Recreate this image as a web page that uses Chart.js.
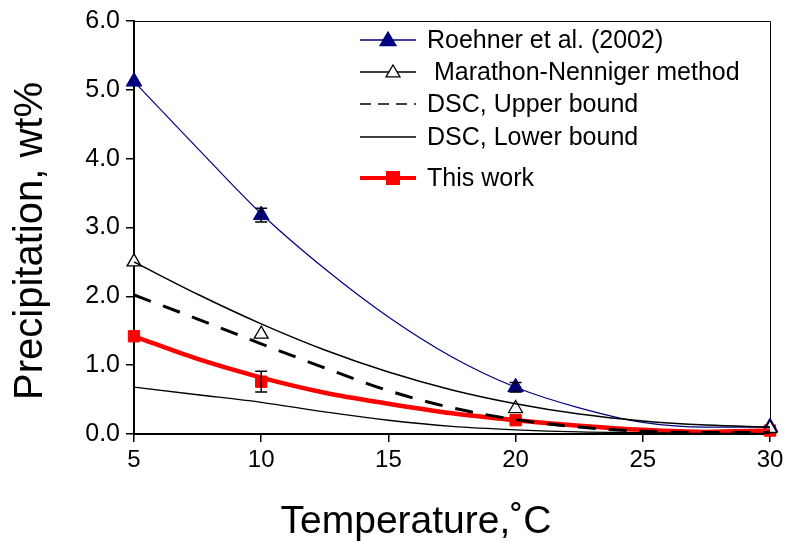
<!DOCTYPE html>
<html>
<head>
<meta charset="utf-8">
<script src="https://cdn.jsdelivr.net/npm/chart.js@4"></script>
<style>
  html, body { margin: 0; padding: 0; background: #fff; }
  #wrap { width: 788px; height: 541px; }
</style>
</head>
<body>
<div id="wrap"><canvas id="myChart" width="788" height="541"></canvas></div>
<script>
// measured points (markers)
const temps = [5, 10, 20, 30];
const roehner = [5.12, 3.18, 0.68, 0.10];
const roehnerErr = [0, 0.10, 0.07, 0];
const marathon = [2.50, 1.45, 0.37, 0.08];
const thisWork = [1.42, 0.76, 0.20, 0.05];
const thisWorkErr = [0, 0.15, 0, 0];

// smooth curves
const curveT = [5, 7.5, 10, 12.5, 15, 17.5, 20, 22.5, 25, 27.5, 30];
const roehnerCurve = [5.12, 4.15, 3.20, 2.40, 1.70, 1.12, 0.68, 0.38, 0.17, 0.10, 0.10];
const marathonCurve = [2.50, 2.03, 1.60, 1.22, 0.90, 0.64, 0.44, 0.29, 0.19, 0.13, 0.10];
const upperCurve = [2.02, 1.67, 1.31, 0.96, 0.63, 0.38, 0.21, 0.10, 0.04, 0.02, 0.02];
const lowerCurve = [0.68, 0.57, 0.46, 0.32, 0.20, 0.11, 0.06, 0.03, 0.02, 0.01, 0.01];
const thisWorkCurve = [1.42, 1.09, 0.82, 0.60, 0.44, 0.30, 0.20, 0.12, 0.06, 0.03, 0.05];

const yTicks = [0, 1, 2, 3, 4, 5, 6];
const xTicks = [5, 10, 15, 20, 25, 30];
const xTitle = 'Temperature,˚C';
const yTitle = 'Precipitation, wt%';

const FONT = '"Liberation Sans", Arial, sans-serif';
const pts = (xs, ys) => xs.map((x, i) => ({ x: x, y: ys[i] }));

const legendItems = [
    { label: 'Roehner et al. (2002)', color: '#00007f', width: 1.5, dash: [], marker: 'triangle', fill: true, size: 8 },
    { label: ' Marathon-Nenniger method', color: '#000', width: 1.5, dash: [], marker: 'triangle', fill: false, size: 7 },
    { label: 'DSC, Upper bound', color: '#000', width: 1.5, dash: [11, 7], marker: null },
    { label: 'DSC, Lower bound', color: '#000', width: 1.5, dash: [], marker: null },
    { label: 'This work', color: '#ff0000', width: 4, dash: [], marker: 'rect', fill: true, size: 7 }
];

const errorBars = {
    id: 'errorBars',
    afterDatasetsDraw(chart) {
        const ctx = chart.ctx;
        const xs = chart.scales.x, ys = chart.scales.y;
        chart.data.datasets.forEach((ds) => {
            if (!ds.errors) return;
            ctx.save();
            ctx.strokeStyle = '#000';
            ctx.lineWidth = 1.5;
            ds.data.forEach((p, i) => {
                const e = ds.errors[i];
                if (!e) return;
                const px = xs.getPixelForValue(p.x);
                const y1 = ys.getPixelForValue(p.y + e);
                const y2 = ys.getPixelForValue(p.y - e);
                ctx.beginPath();
                ctx.moveTo(px, y1); ctx.lineTo(px, y2);
                ctx.moveTo(px - 6, y1); ctx.lineTo(px + 6, y1);
                ctx.moveTo(px - 6, y2); ctx.lineTo(px + 6, y2);
                ctx.stroke();
            });
            ctx.restore();
        });
    }
};

const frame = {
    id: 'frame',
    beforeDatasetsDraw(chart) {
        const a = chart.chartArea, ctx = chart.ctx;
        ctx.save();
        ctx.strokeStyle = '#000';
        ctx.lineWidth = 1;
        ctx.beginPath();
        ctx.moveTo(a.left, a.top + 0.5);
        ctx.lineTo(a.right + 0.5, a.top + 0.5);
        ctx.lineTo(a.right + 0.5, a.bottom);
        ctx.stroke();
        ctx.restore();
    }
};

// axis titles are placed a little off-centre in the original
const axisTitles = {
    id: 'axisTitles',
    afterDraw(chart) {
        const ctx = chart.ctx;
        ctx.save();
        ctx.fillStyle = '#000';
        ctx.textAlign = 'center';
        ctx.textBaseline = 'alphabetic';
        ctx.font = '39px ' + FONT;
        ctx.fillText(xTitle, 416, 533);
        ctx.translate(42, 241);
        ctx.rotate(-Math.PI / 2);
        ctx.font = '40px ' + FONT;
        ctx.fillText(yTitle, 0, 0);
        ctx.restore();
    }
};

const insideLegend = {
    id: 'insideLegend',
    afterDraw(chart) {
        const ctx = chart.ctx;
        const rows = [40, 72, 104, 137, 178];
        ctx.save();
        ctx.font = '25px ' + FONT;
        ctx.textBaseline = 'middle';
        legendItems.forEach((it, i) => {
            const y = rows[i];
            ctx.strokeStyle = it.color;
            ctx.lineWidth = it.width;
            ctx.setLineDash(it.dash);
            ctx.beginPath();
            ctx.moveTo(360, y); ctx.lineTo(416, y);
            ctx.stroke();
            ctx.setLineDash([]);
            if (it.marker === 'triangle') {
                const cx = i === 0 ? 388 : 393, s = it.size;
                ctx.beginPath();
                ctx.moveTo(cx, y - s); ctx.lineTo(cx + s, y + s * 0.7); ctx.lineTo(cx - s, y + s * 0.7);
                ctx.closePath();
                ctx.fillStyle = it.fill ? it.color : '#fff';
                ctx.fill();
                ctx.lineWidth = 1.3;
                ctx.stroke();
            } else if (it.marker === 'rect') {
                ctx.fillStyle = it.color;
                ctx.fillRect(393 - it.size, y - it.size, it.size * 2, it.size * 2);
            }
            ctx.fillStyle = '#000';
            ctx.fillText(it.label, 427, y + 1);
        });
        ctx.restore();
    }
};

const ctx = document.getElementById('myChart').getContext('2d');
const chart = new Chart(ctx, {
    type: 'scatter',
    data: {
        datasets: [{
            label: 'DSC, Lower bound',
            type: 'line',
            data: pts(curveT, lowerCurve),
            borderColor: '#000',
            borderWidth: 1.3,
            pointRadius: 0,
            cubicInterpolationMode: 'monotone',
            fill: false
        }, {
            label: 'DSC, Upper bound',
            type: 'line',
            data: pts(curveT, upperCurve),
            borderColor: '#000',
            borderWidth: 3,
            borderDash: [18, 13],
            pointRadius: 0,
            cubicInterpolationMode: 'monotone',
            fill: false
        }, {
            label: 'Marathon-Nenniger method',
            type: 'line',
            data: pts(curveT, marathonCurve),
            borderColor: '#000',
            borderWidth: 1.5,
            pointRadius: 0,
            cubicInterpolationMode: 'monotone',
            fill: false
        }, {
            label: 'Roehner et al. (2002)',
            type: 'line',
            data: pts(curveT, roehnerCurve),
            borderColor: '#00007f',
            borderWidth: 1.2,
            pointRadius: 0,
            cubicInterpolationMode: 'monotone',
            fill: false
        }, {
            label: 'This work',
            type: 'line',
            data: pts(curveT, thisWorkCurve),
            borderColor: '#ff0000',
            borderWidth: 4.5,
            pointRadius: 0,
            cubicInterpolationMode: 'monotone',
            fill: false
        }, {
            label: 'Marathon-Nenniger points',
            data: pts(temps, marathon),
            pointStyle: 'triangle',
            pointRadius: 8,
            backgroundColor: '#fff',
            borderColor: '#000',
            borderWidth: 1.3,
            clip: false
        }, {
            label: 'Roehner points',
            data: pts(temps, roehner),
            errors: roehnerErr,
            pointStyle: 'triangle',
            pointRadius: 9,
            backgroundColor: '#00007f',
            borderColor: '#00007f',
            borderWidth: 1,
            clip: false
        }, {
            label: 'This work points',
            data: pts(temps, thisWork),
            errors: thisWorkErr,
            pointStyle: 'rect',
            pointRadius: 8,
            backgroundColor: '#ff0000',
            borderColor: '#ff0000',
            borderWidth: 1,
            clip: false
        }]
    },
    options: {
        responsive: false,
        animation: false,
        layout: { padding: { top: 18, right: 18, left: 0, bottom: 0 } },
        plugins: {
            legend: { display: false },
            tooltip: { enabled: false }
        },
        scales: {
            x: {
                type: 'linear',
                min: 5,
                max: 30,
                afterFit: (s) => { s.height = 107; },
                afterBuildTicks: (s) => { s.ticks = xTicks.map(v => ({ value: v })); },
                ticks: {
                    color: '#000',
                    padding: 4,
                    font: { family: FONT, size: 24 }
                },
                grid: { drawOnChartArea: false, drawTicks: true, tickLength: 8, color: '#000', lineWidth: 1.5 },
                border: { display: true, color: '#000', width: 2 },
                title: { display: false }
            },
            y: {
                min: 0,
                max: 6,
                afterFit: (s) => { s.width = 134; },
                afterBuildTicks: (s) => { s.ticks = yTicks.map(v => ({ value: v })); },
                ticks: {
                    color: '#000',
                    padding: 6,
                    font: { family: FONT, size: 25 },
                    callback: (v) => v.toFixed(1)
                },
                grid: { drawOnChartArea: false, drawTicks: true, tickLength: 8, color: '#000', lineWidth: 1.5 },
                border: { display: true, color: '#000', width: 2 },
                title: { display: false }
            }
        }
    },
    plugins: [frame, errorBars, axisTitles, insideLegend]
});
</script>
</body>
</html>
